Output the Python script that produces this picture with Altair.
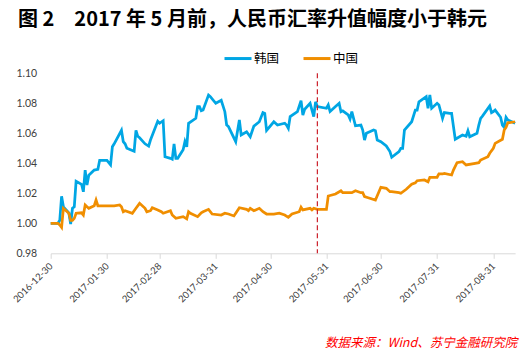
import altair as alt
import pandas as pd

# ---------------- data ----------------
kr_dates = [
    "2016-12-30",
    "2017-01-03", "2017-01-04", "2017-01-05", "2017-01-06", "2017-01-09", "2017-01-10",
    "2017-01-11", "2017-01-12", "2017-01-13", "2017-01-16", "2017-01-17", "2017-01-18",
    "2017-01-19", "2017-01-20", "2017-01-23", "2017-01-25", "2017-01-26", "2017-01-30",
    "2017-02-01", "2017-02-02", "2017-02-03", "2017-02-07", "2017-02-08", "2017-02-09",
    "2017-02-10", "2017-02-14", "2017-02-15", "2017-02-16", "2017-02-17", "2017-02-20",
    "2017-02-22", "2017-02-23", "2017-02-27", "2017-02-28",
    "2017-03-02", "2017-03-03", "2017-03-06", "2017-03-07", "2017-03-08", "2017-03-09",
    "2017-03-10", "2017-03-13", "2017-03-14", "2017-03-15", "2017-03-16", "2017-03-20",
    "2017-03-21", "2017-03-22", "2017-03-23", "2017-03-24", "2017-03-27", "2017-03-28",
    "2017-03-31",
    "2017-04-03", "2017-04-05", "2017-04-06", "2017-04-07", "2017-04-11", "2017-04-13",
    "2017-04-14", "2017-04-17", "2017-04-19", "2017-04-21", "2017-04-24", "2017-04-26",
    "2017-04-27", "2017-04-28",
    "2017-05-02", "2017-05-04", "2017-05-08", "2017-05-09", "2017-05-10", "2017-05-11",
    "2017-05-15", "2017-05-17", "2017-05-18", "2017-05-19", "2017-05-22", "2017-05-24",
    "2017-05-25", "2017-05-26", "2017-05-31",
    "2017-06-01", "2017-06-02", "2017-06-05", "2017-06-07", "2017-06-08", "2017-06-09",
    "2017-06-12", "2017-06-13", "2017-06-14", "2017-06-16", "2017-06-19", "2017-06-20",
    "2017-06-21", "2017-06-22", "2017-06-26", "2017-06-27", "2017-06-28", "2017-06-30",
    "2017-07-03", "2017-07-05", "2017-07-06", "2017-07-10", "2017-07-11", "2017-07-12",
    "2017-07-13", "2017-07-17", "2017-07-19", "2017-07-20", "2017-07-21", "2017-07-25",
    "2017-07-26", "2017-07-27", "2017-07-28", "2017-07-31",
    "2017-08-01", "2017-08-03", "2017-08-04", "2017-08-07", "2017-08-08", "2017-08-10",
    "2017-08-14", "2017-08-16", "2017-08-17", "2017-08-18", "2017-08-22", "2017-08-23",
    "2017-08-24", "2017-08-25", "2017-08-29", "2017-08-30", "2017-08-31",
    "2017-09-01", "2017-09-04", "2017-09-05", "2017-09-06", "2017-09-07", "2017-09-08",
    "2017-09-12",
]
kr_values = [
    1.000,
    1.000, 1.002, 1.018, 1.011, 1.007, 0.9995, 1.010, 1.011, 1.028, 1.026, 1.021, 1.0355,
    1.0255, 1.032, 1.0355, 1.036, 1.042, 1.042,
    1.039, 1.051, 1.053, 1.062, 1.0545, 1.053, 1.050, 1.048, 1.062, 1.058, 1.057, 1.053,
    1.0515, 1.0555, 1.068, 1.0667,
    1.0684, 1.0444, 1.0433, 1.0427, 1.053, 1.0433, 1.0433, 1.049, 1.0545, 1.051, 1.0667,
    1.070, 1.0778, 1.0778, 1.075, 1.0755, 1.0855, 1.0844, 1.080,
    1.082, 1.0744, 1.0655, 1.0645, 1.0544, 1.0689, 1.0589, 1.061, 1.0577, 1.0648, 1.0677,
    1.0738, 1.0733, 1.062,
    1.0677, 1.0655, 1.0667, 1.0655, 1.0633, 1.0711, 1.0744, 1.0817, 1.0722, 1.076, 1.080,
    1.0711, 1.081, 1.0778, 1.0767,
    1.0789, 1.0745, 1.0778, 1.080, 1.0744, 1.075, 1.0722, 1.0695, 1.0744, 1.065, 1.0655,
    1.0622, 1.0555, 1.060, 1.0622, 1.0617, 1.0555, 1.0544,
    1.0515, 1.0478, 1.044, 1.0478, 1.050, 1.050, 1.0622, 1.0677, 1.0755, 1.0755, 1.081,
    1.0844, 1.0767, 1.0855, 1.0767, 1.080,
    1.0789, 1.070, 1.0738, 1.0733, 1.0733, 1.056, 1.0589, 1.058, 1.0617, 1.0577, 1.060,
    1.0655, 1.070, 1.0715, 1.0782, 1.0738, 1.0745,
    1.0755, 1.0707, 1.0655, 1.064, 1.0707, 1.0689, 1.0667,
]

cn_dates = [
    "2016-12-30",
    "2017-01-03", "2017-01-04", "2017-01-05", "2017-01-06", "2017-01-09", "2017-01-10",
    "2017-01-11", "2017-01-12", "2017-01-13", "2017-01-16", "2017-01-17", "2017-01-18",
    "2017-01-19", "2017-01-20", "2017-01-23", "2017-01-24", "2017-01-25", "2017-01-26",
    "2017-02-03", "2017-02-06", "2017-02-07", "2017-02-08", "2017-02-09", "2017-02-13",
    "2017-02-15", "2017-02-17", "2017-02-20", "2017-02-21", "2017-02-23", "2017-02-24",
    "2017-02-27",
    "2017-03-01", "2017-03-02", "2017-03-06", "2017-03-07", "2017-03-09", "2017-03-13",
    "2017-03-15", "2017-03-16", "2017-03-17", "2017-03-21", "2017-03-23", "2017-03-24",
    "2017-03-27", "2017-03-29",
    "2017-04-03", "2017-04-05", "2017-04-07", "2017-04-10", "2017-04-11", "2017-04-13",
    "2017-04-17", "2017-04-18", "2017-04-19", "2017-04-21", "2017-04-24", "2017-04-26",
    "2017-04-28",
    "2017-05-02", "2017-05-05", "2017-05-08", "2017-05-10", "2017-05-12", "2017-05-16",
    "2017-05-17", "2017-05-18", "2017-05-22", "2017-05-23", "2017-05-24", "2017-05-26",
    "2017-05-31",
    "2017-06-01", "2017-06-05", "2017-06-08", "2017-06-09", "2017-06-14", "2017-06-16",
    "2017-06-19", "2017-06-20", "2017-06-21", "2017-06-23", "2017-06-27", "2017-06-30",
    "2017-07-03", "2017-07-05", "2017-07-06", "2017-07-10", "2017-07-11", "2017-07-14",
    "2017-07-17", "2017-07-19", "2017-07-20", "2017-07-24", "2017-07-26", "2017-07-27",
    "2017-07-31",
    "2017-08-01", "2017-08-03", "2017-08-04", "2017-08-08", "2017-08-09", "2017-08-11",
    "2017-08-14", "2017-08-16", "2017-08-21", "2017-08-23", "2017-08-24", "2017-08-28",
    "2017-08-29", "2017-08-31",
    "2017-09-01", "2017-09-05", "2017-09-06", "2017-09-07", "2017-09-08", "2017-09-12",
]
cn_values = [
    1.000,
    1.000, 0.9989, 0.9973, 1.010, 1.0067, 1.002, 1.002, 1.0033, 1.0067, 1.007, 1.0055,
    1.0122, 1.011, 1.010, 1.0117, 1.0155, 1.0117, 1.0117,
    1.0117, 1.0122, 1.011, 1.0077, 1.0084, 1.0067, 1.010, 1.0133, 1.010, 1.0077, 1.0084,
    1.0104, 1.0089,
    1.0077, 1.0067, 1.0084, 1.0055, 1.0033, 1.0044, 1.0029, 1.0077, 1.0067, 1.0044, 1.007,
    1.0077, 1.0093, 1.0062,
    1.0055, 1.0067, 1.0062, 1.0049, 1.0067, 1.0104, 1.0093, 1.0084, 1.010, 1.0084, 1.010,
    1.0077, 1.0062,
    1.0062, 1.0067, 1.0055, 1.004, 1.0062, 1.0077, 1.0107, 1.0089, 1.010, 1.0089, 1.010,
    1.0093, 1.0093,
    1.0182, 1.0195, 1.0217, 1.0204, 1.0204, 1.0217, 1.0204, 1.0204, 1.0178, 1.017, 1.0155,
    1.024,
    1.0233, 1.0211, 1.0211, 1.0204, 1.020, 1.0227, 1.026, 1.027, 1.0284, 1.0289, 1.0277,
    1.0307, 1.0307,
    1.0329, 1.0329, 1.0333, 1.0322, 1.0355, 1.0404, 1.0411, 1.0389, 1.040, 1.0404, 1.0422,
    1.0444, 1.0467, 1.050,
    1.0533, 1.056, 1.0622, 1.064, 1.067, 1.0677,
]

series_names = ["韩国", "中国"]
series_colors = ["#00A6E4", "#F08E00"]
x_tick_dates = ["2016-12-30", "2017-01-30", "2017-02-28", "2017-03-31", "2017-04-30",
                "2017-05-31", "2017-06-30", "2017-07-31", "2017-08-31"]
x_domain = ["2016-12-30", "2017-09-12"]
y_ticks = [0.98, 1.00, 1.02, 1.04, 1.06, 1.08, 1.10]
y_domain = [0.98, 1.10]
marker_date = ["2017-05-26"]
title_text = "图 2　2017 年 5 月前，人民币汇率升值幅度小于韩元"
source_text = "数据来源：Wind、苏宁金融研究院"

# ---------------- build tables ----------------
df = pd.concat([
    pd.DataFrame({"date": pd.to_datetime(kr_dates), "value": kr_values, "series": series_names[0]}),
    pd.DataFrame({"date": pd.to_datetime(cn_dates), "value": cn_values, "series": series_names[1]}),
], ignore_index=True)


def dt(s):
    t = pd.Timestamp(s)
    return alt.DateTime(year=t.year, month=t.month, date=t.day)


x_scale = alt.Scale(domain=[dt(d) for d in x_domain], nice=False)
y_scale = alt.Scale(domain=y_domain, nice=False, zero=False)

x_axis = alt.Axis(
    values=[dt(d) for d in x_tick_dates], format="%Y-%m-%d", labelAngle=-45,
    labelAlign="right", labelBaseline="middle", labelFont="Lato", labelFontSize=9.5,
    labelColor="#404040", labelPadding=6, labelOverlap=False, domainColor="#D9D9D9",
    tickColor="#D9D9D9", tickSize=5, grid=False, title=None,
)
y_axis = alt.Axis(
    values=y_ticks, format=".2f", domain=False, ticks=False, grid=False,
    labelPadding=14, labelFont="Lato", labelFontSize=10.5, labelColor="#404040",
    labelOverlap=False, tickCount=7, title=None,
)

legend = alt.Legend(
    title=None, orient="none", legendX=172.3, legendY=-30, direction="horizontal",
    symbolType="stroke", symbolSize=729, symbolStrokeWidth=3,
    labelFont="Noto Sans CJK SC", labelFontSize=12.5, labelColor="black",
    labelOffset=1, columnPadding=17, padding=0,
)

base = alt.Chart(df).mark_line(strokeWidth=2.75).encode(
    x=alt.X("date:T", scale=x_scale, axis=x_axis),
    y=alt.Y("value:Q", scale=y_scale, axis=y_axis),
    color=alt.Color("series:N", scale=alt.Scale(domain=series_names, range=series_colors),
                    legend=legend),
)
kr_line = base.transform_filter(alt.datum.series == series_names[0])
cn_line = base.transform_filter(alt.datum.series == series_names[1])

# vertical marker spanning the whole plot height
rule_df = pd.DataFrame({"date": pd.to_datetime(marker_date)})
rule = alt.Chart(rule_df).mark_rule(
    color="#CC1F2A", strokeDash=[5, 3], strokeWidth=1.2
).encode(x=alt.X("date:T", scale=x_scale, axis=x_axis))

title = alt.Chart(pd.DataFrame({"t": [title_text]})).mark_text(
    align="left", baseline="middle", fontSize=20, fontWeight="bold",
    font="Noto Sans CJK SC", color="black",
).encode(x=alt.value(-32.7), y=alt.value(-53.6), text="t:N")

source = alt.Chart(pd.DataFrame({"t": [source_text]})).mark_text(
    align="right", baseline="middle", fontSize=12.5, fontStyle="italic",
    font="Noto Sans CJK SC", color="#FF0000",
).encode(x=alt.value(466.5), y=alt.value(269.2), text="t:N")

chart = alt.layer(kr_line, cn_line, rule, title, source).properties(
    width=464.4, height=180,
    autosize=alt.AutoSizeParams(type="none"),
    padding={"left": 50.7, "top": 73.3, "right": 15.9, "bottom": 97.7},
    background="white",
).configure_view(stroke=None).configure_axis(labelOverlap=False)

chart.save("out.html", embed_options={"renderer": "svg", "actions": False})
